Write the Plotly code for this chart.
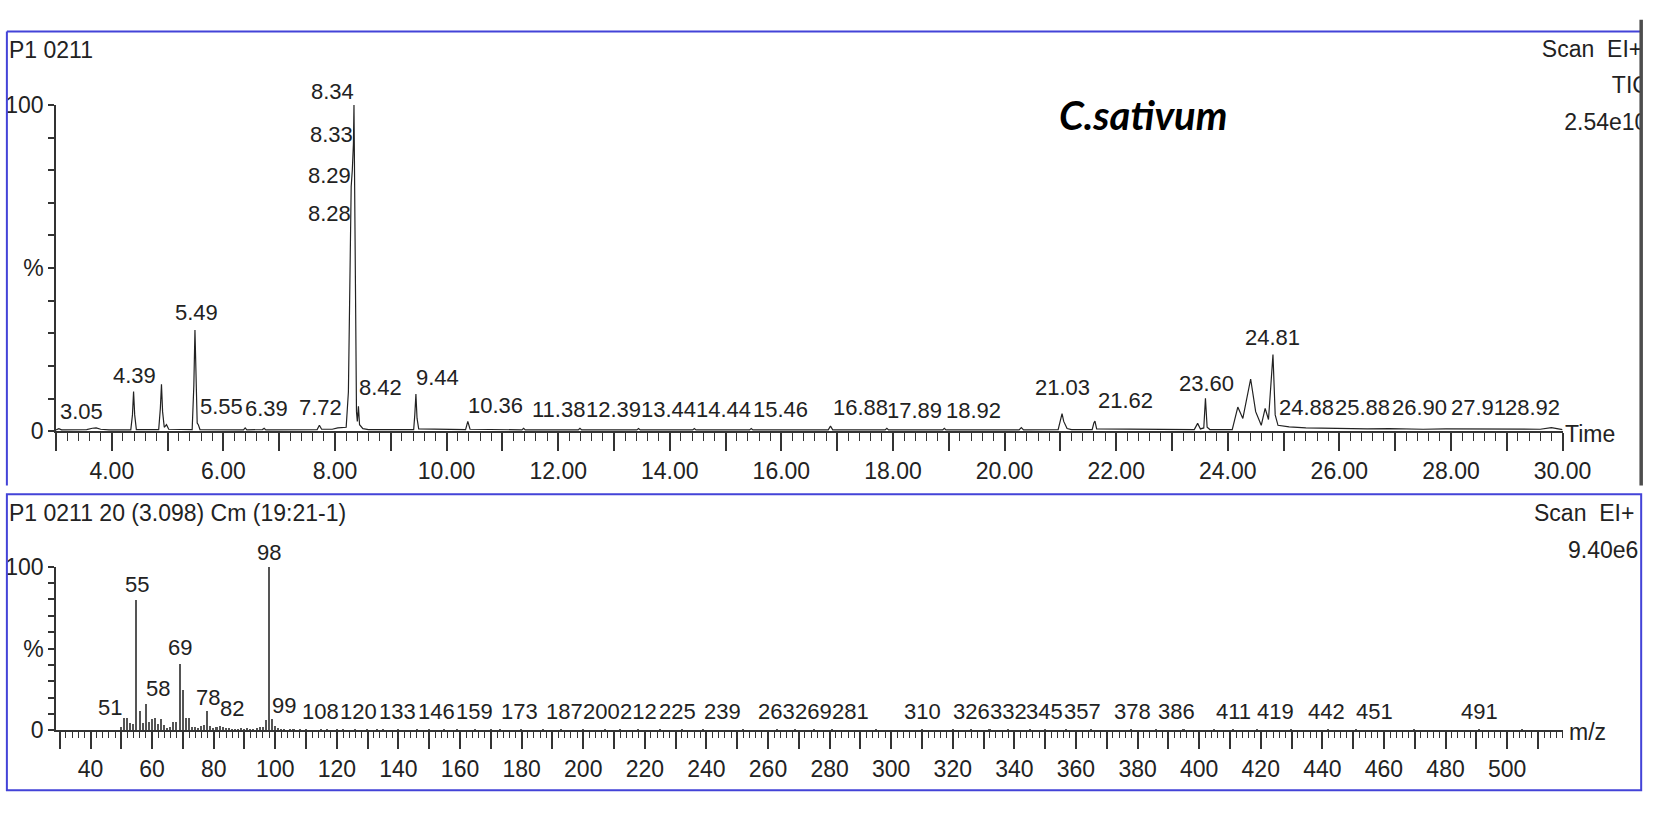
import plotly.graph_objects as go

W, H = 1680, 814          # size the layout below was measured in
FONT = "Liberation Sans, Arial, sans-serif"
INK = "#222222"
BLUE = "#4343d8"

# --- TIC chromatogram: time (min) / relative intensity (%)
tic_time = [3.00, 3.05, 3.10, 3.55, 3.65, 3.72, 3.80, 3.95, 4.34, 4.37, 4.39, 4.41, 4.44,
            4.84, 4.87, 4.89, 4.91, 4.94, 4.98, 5.02, 5.44, 5.47, 5.49, 5.51, 5.53, 5.55, 5.58,
            6.36, 6.39, 6.42, 6.70, 6.73, 6.76, 7.68, 7.72, 7.76, 7.95, 8.05, 8.20,
            8.24, 8.26, 8.28, 8.29, 8.31, 8.33, 8.34, 8.355, 8.37, 8.385, 8.40, 8.42, 8.44,
            8.50, 8.60, 9.41, 9.43, 9.45, 9.47, 9.50, 10.34, 10.38, 10.42,
            11.35, 11.38, 11.41, 12.36, 12.39, 12.42, 13.41, 13.44, 13.47, 14.41, 14.44, 14.47,
            15.43, 15.46, 15.49, 16.84, 16.88, 16.92, 17.86, 17.89, 17.92, 18.89, 18.92, 18.95,
            20.26, 20.30, 20.34, 20.96, 21.00, 21.03, 21.06, 21.12, 21.20, 21.57, 21.60, 21.62,
            21.65, 23.40, 23.46, 23.51, 23.57, 23.60, 23.63, 23.68, 24.08, 24.18, 24.27, 24.41,
            24.50, 24.60, 24.67, 24.73, 24.81, 24.85, 24.90, 25.10, 25.40, 25.88, 26.50, 26.90,
            27.50, 27.91, 28.50, 28.92, 29.60, 29.80, 29.95, 30.00]
tic_pct = [0.4, 0.8, 0.4, 0.5, 0.9, 1.0, 0.6, 0.4, 0.4, 5.0, 12.2, 5.0, 0.5,
           0.5, 7.0, 14.4, 6.0, 1.2, 2.0, 0.6, 0.5, 14.0, 31.0, 16.0, 2.5, 2.0, 0.5,
           0.4, 1.0, 0.4, 0.5, 0.9, 0.4, 0.5, 1.8, 0.6, 0.6, 1.0, 1.2,
           12.0, 40.0, 63.0, 75.0, 80.0, 88.0, 100.0, 75.0, 30.0, 6.0, 3.0, 7.6, 2.0,
           0.8, 0.5, 0.5, 5.0, 11.4, 4.0, 0.7, 0.5, 3.0, 0.6,
           0.4, 0.9, 0.4, 0.4, 0.9, 0.4, 0.4, 0.8, 0.4, 0.4, 0.8, 0.4,
           0.4, 0.8, 0.4, 0.4, 1.6, 0.4, 0.4, 0.9, 0.4, 0.4, 0.9, 0.4,
           0.4, 1.1, 0.4, 0.5, 3.0, 5.4, 3.0, 0.8, 0.5, 0.5, 2.5, 3.1,
           0.7, 0.5, 2.4, 0.7, 1.0, 10.1, 1.2, 0.5, 0.5, 7.4, 3.9, 16.0,
           6.0, 1.8, 7.0, 3.6, 23.5, 5.0, 1.8, 1.3, 1.0, 0.8, 0.7, 0.8,
           0.6, 0.7, 0.6, 0.7, 0.6, 1.1, 0.7, 0.5]

# retention-time labels and where MassLynx put them (label centre, min / %)
rt_labels = ["3.05", "4.39", "5.49", "5.55", "6.39", "7.72", "8.28", "8.29", "8.33", "8.34",
             "8.42", "9.44", "10.36", "11.38", "12.39", "13.44", "14.44", "15.46", "16.88",
             "17.89", "18.92", "21.03", "21.62", "23.60", "24.81", "24.88", "25.88", "26.90",
             "27.91", "28.92"]
rt_label_x = [3.45, 4.40, 5.51, 5.96, 6.78, 7.74, 7.90, 7.90, 7.93, 7.95,
              8.82, 9.84, 10.87, 12.01, 12.99, 13.98, 14.96, 15.98, 17.41,
              18.39, 19.45, 21.04, 22.17, 23.62, 24.80, 25.41, 26.42, 27.44,
              28.50, 29.47]
rt_label_y = [5.9, 17.2, 36.5, 7.7, 7.1, 7.4, 66.8, 78.3, 90.8, 104.2,
              13.4, 16.6, 8.0, 6.5, 6.5, 6.5, 6.5, 6.5, 7.4,
              6.2, 6.2, 13.4, 9.5, 14.5, 28.8, 7.4, 7.4, 7.4,
              7.4, 7.4]

# --- mass spectrum of scan 20: m/z / relative intensity (%)
ms_mz = [50, 51, 52, 53, 54, 55, 56, 57, 58, 59, 60, 61, 62, 63, 64, 65, 66, 67, 68, 69,
         70, 71, 72, 73, 74, 75, 76, 77, 78, 79, 80, 81, 82, 83, 84, 85, 86, 87, 88, 89,
         90, 91, 92, 93, 94, 95, 96, 97, 98, 99, 100, 101, 102, 103, 105, 106, 108, 110,
         115, 117, 120, 122, 126, 130, 133, 135, 140, 146, 150, 155, 159, 165, 170, 173,
         180, 187, 193, 200, 207, 212, 218, 225, 232, 239, 252, 263, 269, 275, 281, 295,
         310, 320, 326, 332, 338, 345, 350, 357, 365, 378, 386, 395, 405, 411, 419, 430,
         442, 451, 470, 491, 505]
ms_pct = [2.0, 7.5, 7.5, 4.5, 4.0, 80.0, 12.0, 4.5, 16.0, 5.0, 7.0, 7.5, 4.0, 7.0, 3.5, 1.5,
          2.0, 5.0, 5.0, 41.0, 25.0, 8.0, 8.0, 2.0, 2.0, 1.5, 3.0, 3.5, 12.0, 3.0, 1.5, 2.0,
          3.0, 2.0, 1.5, 1.5, 1.0, 1.2, 1.0, 1.5, 1.0, 1.5, 1.0, 1.2, 1.5, 2.0, 2.0, 6.5,
          100.0, 7.0, 3.0, 1.5, 1.0, 0.8, 0.6, 0.5, 1.2, 0.5, 0.6, 0.5, 1.2, 0.5, 0.6, 0.5,
          1.2, 0.5, 0.6, 1.2, 0.5, 0.6, 1.2, 0.5, 0.6, 1.2, 0.5, 1.2, 0.5, 1.2, 0.6, 1.2,
          0.6, 1.2, 0.5, 1.2, 0.5, 1.2, 1.2, 0.5, 1.2, 0.5, 1.2, 0.5, 1.2, 1.2, 0.5, 1.2,
          0.5, 1.2, 0.5, 1.2, 1.2, 0.5, 0.5, 1.2, 1.2, 0.5, 1.2, 1.2, 0.5, 1.2, 0.4]

mz_labels = ["98", "55", "69", "58", "51", "78", "82", "99", "108", "120", "133", "146",
             "159", "173", "187", "200", "212", "225", "239", "263", "269", "281", "310",
             "326", "332", "345", "357", "378", "386", "411", "419", "442", "451", "491"]
mz_label_x = [98, 55, 69, 61.9, 46.4, 78, 85.9, 102.9, 114.7, 127.1, 139.8, 152.2,
              164.8, 179.2, 193.8, 205.8, 218.1, 230.7, 245.1, 262.8, 274.8, 286.7, 310.2,
              326.0, 338.1, 349.9, 362.0, 378.3, 392.5, 411.3, 424.8, 441.5, 456.8, 490.9]
mz_label_y = [108.9, 89.3, 50.9, 25.4, 14.2, 20.1, 13.6, 15.4] + [11.8] * 26


# window pixel -> paper fraction
def px(x):
    return x / W


def py(y):
    return 1 - y / H


fig = go.Figure()

fig.add_trace(go.Scatter(x=tic_time, y=tic_pct, mode="lines",
                         line=dict(color=INK, width=1.2), xaxis="x", yaxis="y",
                         hoverinfo="skip"))
fig.add_trace(go.Bar(x=ms_mz, y=ms_pct, width=0.5, marker=dict(color="#555555", line_width=0),
                     xaxis="x2", yaxis="y2", hoverinfo="skip"))

# header texts that run into the right-hand border and get cut off by it
hdr_font = dict(family=FONT, size=23, color=INK)
fig.add_trace(go.Scatter(x=[1620, 1659, 1634], y=[39, 77, 115], mode="text",
                         text=["Scan\u00a0\u00a0EI+", "TIC", "2.54e10"],
                         textposition="middle center", textfont=hdr_font,
                         xaxis="x3", yaxis="y3", cliponaxis=True, hoverinfo="skip"))

pct_ticks = list(range(0, 101, 10))
pct_text = ["0" if v == 0 else "%" if v == 50 else "100" if v == 100 else "" for v in pct_ticks]
tick_font = dict(family=FONT, size=23, color=INK)
yax = dict(range=[0, 100], tickmode="array", tickvals=pct_ticks, ticktext=pct_text,
           ticks="outside", ticklen=6, tickwidth=1.5, tickcolor="#333", showline=True,
           linecolor="#333", linewidth=1.5, showgrid=False, zeroline=False, tickfont=tick_font)

t_ticks = list(range(3, 31))
mz_ticks = list(range(30, 520, 10))
x_dom = [px(57), px(1590)]

fig.update_layout(
    margin=dict(l=0, r=0, t=0, b=0), autosize=True,
    paper_bgcolor="white", plot_bgcolor="rgba(0,0,0,0)", showlegend=False,
    xaxis=dict(domain=x_dom, range=[3.0, 30.0], anchor="y", tickmode="array",
               tickvals=t_ticks, ticktext=[f"{v}.00" if v % 2 == 0 else "" for v in t_ticks],
               ticks="outside", ticklen=18, tickwidth=1.5, tickcolor="#333",
               minor=dict(ticks="outside", tickmode="linear", tick0=3, dtick=0.2,
                          ticklen=8, tickwidth=1.2, tickcolor="#333"),
               showline=True, linecolor="#333", linewidth=1.5, showgrid=False,
               zeroline=False, tickfont=tick_font),
    yaxis=dict(domain=[py(432), py(95)], anchor="x", **yax),
    xaxis2=dict(domain=x_dom, range=[28.8, 518], anchor="y2", tickmode="array",
                tickvals=mz_ticks,
                ticktext=[str(v) if v % 20 == 0 and v >= 40 else "" for v in mz_ticks],
                ticks="outside", ticklen=17, tickwidth=1.5, tickcolor="#333",
                minor=dict(ticks="outside", tickmode="linear", tick0=0, dtick=2,
                           ticklen=6, tickwidth=1.2, tickcolor="#333"),
                showline=True, linecolor="#333", linewidth=1.5, showgrid=False,
                zeroline=False, tickfont=tick_font),
    yaxis2=dict(domain=[py(741), py(572)], anchor="x2", **yax),
    xaxis3=dict(domain=[0, px(1670)], range=[0, 1670], anchor="y3", visible=False),
    yaxis3=dict(domain=[0, 1], range=[H, 0], anchor="x3", visible=False),
    bargap=0,
)

# panel frames
frame = [
    dict(x0=px(7), x1=px(1670), y0=py(19), y1=py(19), color=BLUE, width=2),
    dict(x0=px(7), x1=px(7), y0=py(19), y1=py(488), color=BLUE, width=2),
    dict(x0=px(1670), x1=px(1670), y0=py(7), y1=py(488), color="#4d4d4d", width=3.5),
]
for f in frame:
    fig.add_shape(type="line", xref="paper", yref="paper", x0=f["x0"], x1=f["x1"],
                  y0=f["y0"], y1=f["y1"], line=dict(color=f["color"], width=f["width"]))
fig.add_shape(type="rect", xref="paper", yref="paper", x0=px(7), x1=px(1670),
              y0=py(803), y1=py(497), line=dict(color=BLUE, width=2))

# peak labels (y given in % of the axis height, so labels above 100 % are not dropped)
lab_font = dict(family=FONT, size=22, color=INK)
for txt, x, y in zip(rt_labels, rt_label_x, rt_label_y):
    fig.add_annotation(x=x, y=y / 100, xref="x", yref="y domain", text=txt, showarrow=False,
                       xanchor="center", yanchor="middle", font=lab_font, borderpad=0)
for txt, x, y in zip(mz_labels, mz_label_x, mz_label_y):
    fig.add_annotation(x=x, y=y / 100, xref="x2", yref="y2 domain", text=txt, showarrow=False,
                       xanchor="center", yanchor="middle", font=lab_font, borderpad=0)

paper_texts = [
    ("P1 0211", 8, 38, "left"),
    ("P1 0211 20 (3.098) Cm (19:21-1)", 8, 517, "left"),
    ("Scan\u00a0\u00a0EI+", 1664, 517, "right"),
    ("9.40e6", 1668, 555, "right"),
    ("Time", 1591, 435, "left"),
    ("m/z", 1596, 743, "left"),
]
for txt, x, y, anchor in paper_texts:
    fig.add_annotation(x=px(x), y=py(y), xref="paper", yref="paper", text=txt,
                       showarrow=False, xanchor=anchor, yanchor="middle", font=hdr_font,
                       borderpad=0)

fig.add_annotation(x=px(1163), y=py(105), xref="paper", yref="paper", text="C.sativum",
                   showarrow=False, xanchor="center", yanchor="middle",
                   font=dict(family="Lato, Open Sans, sans-serif", size=40, color="black",
                             weight="bold", style="italic"))

# the plot div is pinned to the window so the figure fills exactly the visible area
fig.write_html("out.html", config={"displayModeBar": False, "responsive": True},
               default_width="100vw; position:fixed; left:0; top:0",
               default_height="100vh")
